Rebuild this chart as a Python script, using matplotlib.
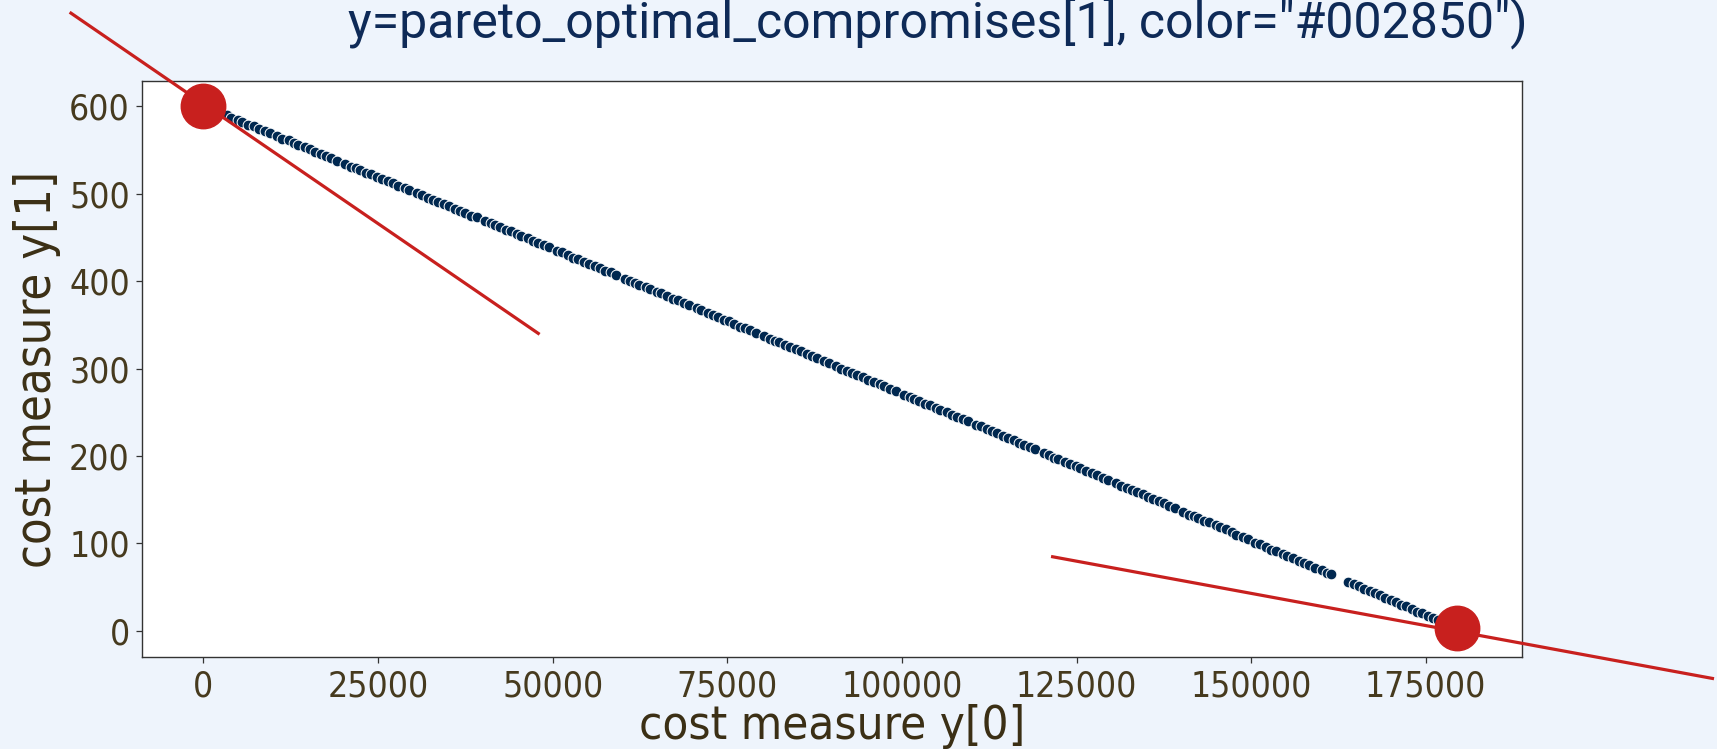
import numpy as np
import matplotlib
matplotlib.use("Agg")
import matplotlib.pyplot as plt

# pareto front: cost measure y[0] (in thousands) and y[1]
y0_thousands = [
    0.3, 1.1, 1.8, 2.4, 3.3, 4.0, 4.9, 5.5, 6.4, 7.2, 7.9, 8.8, 9.5,
    10.6, 11.3, 12.2, 12.9, 13.6, 14.5, 15.2, 16.0, 16.8, 17.5, 18.3, 19.1,
    20.3, 21.1, 21.8, 22.4, 23.3, 24.0, 24.9, 25.5, 26.4, 27.2, 27.9, 28.8, 29.5,
    30.6, 31.3, 32.2, 32.9, 33.6, 34.5, 35.2, 36.0, 36.8, 37.5, 38.3, 39.1,
    40.3, 41.1, 41.8, 42.4, 43.3, 44.0, 44.9, 45.5, 46.4, 47.2, 47.9, 48.8, 49.5,
    50.6, 51.3, 52.2, 52.9, 53.6, 54.5, 55.2, 56.0, 56.8, 57.5, 58.3, 59.1,
    60.3, 61.1, 61.8, 62.4, 63.3, 64.0, 64.9, 65.5, 66.4, 67.2, 67.9, 68.8, 69.5,
    70.6, 71.3, 72.2, 72.9, 73.6, 74.5, 75.2, 76.0, 76.8, 77.5, 78.3, 79.1,
    80.3, 81.1, 81.8, 82.4, 83.3, 84.0, 84.9, 85.5, 86.4, 87.2, 87.9, 88.8, 89.5,
    90.6, 91.3, 92.2, 92.9, 93.6, 94.5, 95.2, 96.0, 96.8, 97.5, 98.3, 99.1,
    100.3, 101.1, 101.8, 102.4, 103.3, 104.0, 104.9, 105.5, 106.4, 107.2, 107.9, 108.8, 109.5,
    110.6, 111.3, 112.2, 112.9, 113.6, 114.5, 115.2, 116.0, 116.8, 117.5, 118.3, 119.1,
    120.3, 121.1, 121.8, 122.4, 123.3, 124.0, 124.9, 125.5, 126.4, 127.2, 127.9, 128.8, 129.5,
    130.6, 131.3, 132.2, 132.9, 133.6, 134.5, 135.2, 136.0, 136.8, 137.5, 138.3, 139.1,
    140.3, 141.1, 141.8, 142.4, 143.3, 144.0, 144.9, 145.5, 146.4, 147.2, 147.9, 148.8, 149.5,
    150.6, 151.3, 152.2, 152.9, 153.6, 154.5, 155.2, 156.0, 156.8, 157.5, 158.3, 159.1,
    160.2, 160.9, 161.4, 163.8, 164.7, 165.5, 166.2, 167.0, 167.7, 168.5, 169.2,
    170.0, 170.7, 171.5, 172.2, 173.0, 173.8, 174.5, 175.3, 176.0, 176.8, 177.6, 178.4, 179.2,
]
y1_values = [
    599, 596, 594, 592, 590, 587, 584, 582, 579, 577, 574, 572, 569,
    566, 563, 561, 558, 556, 553, 551, 548, 546, 543, 541, 538,
    534, 531, 529, 527, 524, 522, 519, 517, 514, 512, 509, 506, 504,
    501, 498, 495, 493, 491, 488, 486, 483, 480, 478, 475, 473,
    469, 466, 464, 462, 459, 457, 454, 452, 449, 446, 444, 441, 439,
    435, 433, 430, 427, 425, 422, 420, 417, 415, 412, 410, 407,
    403, 400, 398, 396, 393, 391, 388, 386, 383, 380, 378, 375, 373,
    369, 367, 364, 361, 359, 356, 354, 351, 348, 346, 344, 341,
    337, 334, 332, 330, 327, 325, 322, 320, 317, 314, 312, 309, 306,
    303, 300, 297, 295, 293, 290, 287, 285, 282, 280, 277, 274,
    270, 268, 265, 263, 260, 258, 255, 253, 250, 247, 245, 242, 240,
    236, 234, 231, 228, 226, 223, 221, 218, 215, 213, 210, 208,
    203, 201, 198, 196, 193, 191, 188, 186, 183, 180, 178, 175, 172,
    169, 166, 163, 161, 159, 156, 153, 151, 148, 146, 143, 140,
    136, 133, 131, 129, 126, 124, 121, 119, 116, 113, 110, 107, 105,
    101, 99, 96, 93, 91, 88, 86, 83, 80, 78, 75, 72,
    69, 66, 65, 56, 53, 51, 48, 46, 43, 41, 38,
    35, 33, 30, 28, 25, 22, 20, 17, 15, 12, 10, 7, 4,
]

# the two extreme compromises (red dots)
extreme_y0 = [0, 179500]
extreme_y1 = [600, 3]

# red guide lines, start/end in data units (they run past the axes)
left_line_y0 = [-18970, 47940]
left_line_y1 = [706.6, 340.2]
right_line_y0 = [121580, 216050]
right_line_y1 = [84.7, -54.5]

bg = "#eef4fc"
navy = "#002850"
red = "#c8201e"
tick_col = "#463a1e"
label_col = "#3b2f15"

plt.rcParams["font.family"] = "DejaVu Sans"
plt.rcParams["font.stretch"] = "condensed"

fig = plt.figure(figsize=(17.17, 7.49), dpi=100, facecolor=bg)
ax = fig.add_axes([0.0829, 0.1228, 0.8036, 0.7691])
ax.set_facecolor("white")

y0 = np.array(y0_thousands) * 1000
ax.scatter(y0, y1_values, s=60, color=navy, edgecolor="white", linewidth=0.7, zorder=2)

ax.plot(extreme_y0, extreme_y1, "o", color=red, markersize=32, zorder=3)
ax.plot(left_line_y0, left_line_y1, color=red, lw=2.3, clip_on=False, zorder=4)
ax.plot(right_line_y0, right_line_y1, color=red, lw=2.3, clip_on=False, zorder=4)

ax.set_xlim(-8750, 188800)
ax.set_ylim(-30, 629)
ax.set_xticks([0, 25000, 50000, 75000, 100000, 125000, 150000, 175000])
ax.set_yticks([0, 100, 200, 300, 400, 500, 600])

for s in ax.spines.values():
    s.set_color("#333333")
    s.set_linewidth(1.0)
ax.tick_params(labelsize=25.5, colors="#333333", labelcolor=tick_col, length=4, width=0.9, pad=5)

ax.set_xlabel("cost measure y[0]", fontsize=34, color=label_col, labelpad=0)
ax.set_ylabel("cost measure y[1]", fontsize=35, color=label_col, labelpad=6)

# code line from the slide, cut off at the top edge
fig.text(348 / 1717, 1 - 38 / 749, 'y=pareto_optimal_compromises[1], color="#002850")',
         fontsize=36, family="Roboto", stretch="normal", color="#0e2a57",
         ha="left", va="baseline")

fig.savefig("out.png", dpi=100, facecolor=bg)
